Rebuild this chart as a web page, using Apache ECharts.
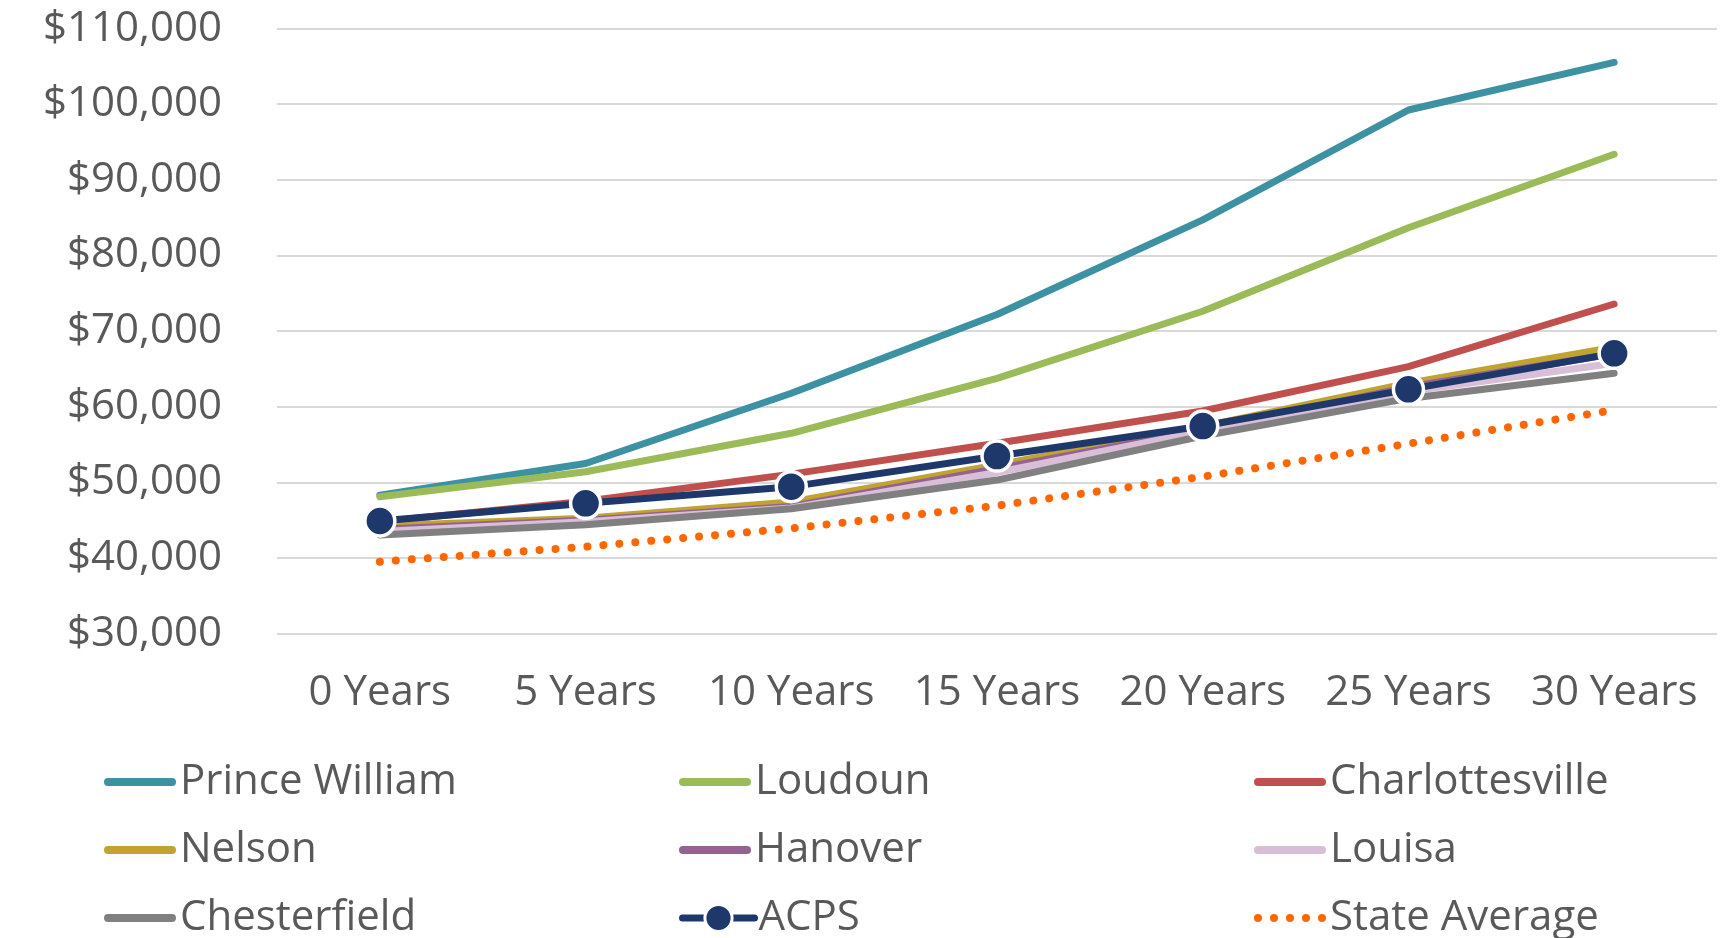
<!DOCTYPE html>
<html>
<head>
<meta charset="utf-8">
<title>Teacher Salary by Years of Experience</title>
<script src="https://cdn.jsdelivr.net/npm/echarts@6/dist/echarts.min.js"></script>
<style>
  html, body { margin: 0; padding: 0; background: #ffffff; }
  #chart { width: 1725px; height: 938px; }
</style>
</head>
<body>
<div id="chart"></div>
<script>
// Experience steps on the x axis
const categories = ['0 Years', '5 Years', '10 Years', '15 Years', '20 Years', '25 Years', '30 Years'];

// Salary by division (USD)
const princeWilliam   = [48300, 52500, 61780, 72200, 84700, 99240, 105540];
const loudoun         = [48100, 51400, 56490, 63750, 72620, 83670, 93380];
const charlottesville = [44800, 47500, 51090, 55160, 59430, 65300, 73580];
const nelson          = [44230, 45250, 47400, 52300, 57400, 63100, 67860];
const hanover         = [43800, 45000, 46800, 51800, 56900, 62600, 67000];
const louisa          = [43500, 44800, 46600, 51300, 56750, 62000, 65740];
const chesterfield    = [43040, 44400, 46510, 50300, 56130, 61100, 64420];
const acps            = [44890, 47230, 49430, 53480, 57450, 62300, 67060];
const stateAverage    = [39510, 41490, 43920, 46910, 50750, 55110, 59570];

// Y axis range and step
const yMin = 30000;
const yMax = 110000;
const yStep = 10000;

const seriesNames = ['Prince William', 'Loudoun', 'Charlottesville', 'Nelson', 'Hanover',
                     'Louisa', 'Chesterfield', 'ACPS', 'State Average'];
const seriesValues = [princeWilliam, loudoun, charlottesville, nelson, hanover,
                      louisa, chesterfield, acps, stateAverage];
const seriesColors = ['#3C91A2', '#9BBB59', '#C0504D', '#C0A331', '#946290',
                      '#D8BED6', '#808080', '#1E386B', '#FF6600'];

const FONT = '"Open Sans", "Liberation Sans", sans-serif';
const TEXT_COLOR = '#595959';
const LINE_W = 7;

const series = seriesNames.map((name, i) => {
  const s = {
    name: name,
    type: 'line',
    data: seriesValues[i],
    color: seriesColors[i],
    showSymbol: false,
    symbol: 'none',
    z: 2 + i,
    lineStyle: { width: LINE_W, color: seriesColors[i], cap: 'round', join: 'round' },
    emphasis: { disabled: true },
    animation: false
  };
  if (name === 'ACPS') {
    s.symbol = 'circle';
    s.showSymbol = true;
    s.symbolSize = 30;
    s.itemStyle = { color: seriesColors[i], borderColor: '#ffffff', borderWidth: 3.5 };
    s.z = 20;
  }
  if (name === 'State Average') {
    s.lineStyle = { width: 8, color: seriesColors[i], type: [0.01, 16], cap: 'round' };
  }
  return s;
});

// Legend key shapes: a rounded bar for solid lines, a row of dots for the dotted line
const barIcon = 'path://M4,0L68,0A4,4 0 0 1 68,8L4,8A4,4 0 0 1 4,0Z';
const dotsIcon = 'path://' + [4, 20, 36, 52, 68]
  .map(cx => `M${cx - 4},4A4,4 0 1 0 ${cx + 4},4A4,4 0 1 0 ${cx - 4},4Z`).join('');

// Legend laid out as a 3 x 3 table
const legendCols = [104, 679, 1254];
const legendRows = [782, 850, 918];
const legends = seriesNames.map((name, i) => {
  const item = { name: name };
  const lg = {
    data: [item],
    left: legendCols[i % 3],
    top: legendRows[Math.floor(i / 3)] - 24,
    orient: 'horizontal',
    itemWidth: 72,
    itemHeight: 8,
    itemGap: 0,
    padding: 0,
    selectedMode: false,
    textStyle: { fontFamily: FONT, fontSize: 42, color: TEXT_COLOR, lineHeight: 48, padding: [0, 0, 0, -1] }
  };
  if (name === 'ACPS') {
    lg.itemHeight = 34;
    lg.top = legendRows[Math.floor(i / 3)] - 24;
    lg.lineStyle = { width: LINE_W, cap: 'round' };
    lg.itemStyle = { borderColor: '#ffffff', borderWidth: 3 };
  } else if (name === 'State Average') {
    item.icon = dotsIcon;
  } else {
    item.icon = barIcon;
  }
  return lg;
});

const chart = echarts.init(document.getElementById('chart'), null, { renderer: 'canvas' });
chart.setOption({
  backgroundColor: '#ffffff',
  animation: false,
  grid: { left: 277, right: 8, top: 28.6, bottom: 304.4 },
  legend: legends,
  xAxis: {
    type: 'category',
    data: categories,
    boundaryGap: true,
    axisLine: { show: false },
    axisTick: { show: false },
    axisLabel: { interval: 0, fontFamily: FONT, fontSize: 42, color: TEXT_COLOR, margin: 35, lineHeight: 48 }
  },
  yAxis: {
    type: 'value',
    min: yMin,
    max: yMax,
    interval: yStep,
    axisLine: { show: false },
    axisTick: { show: false },
    splitLine: { lineStyle: { color: '#D9D9D9', width: 2 } },
    axisLabel: {
      fontFamily: FONT, fontSize: 42, color: TEXT_COLOR, margin: 55,
      formatter: v => '$' + v.toLocaleString('en-US')
    }
  },
  series: series
});
</script>
</body>
</html>
